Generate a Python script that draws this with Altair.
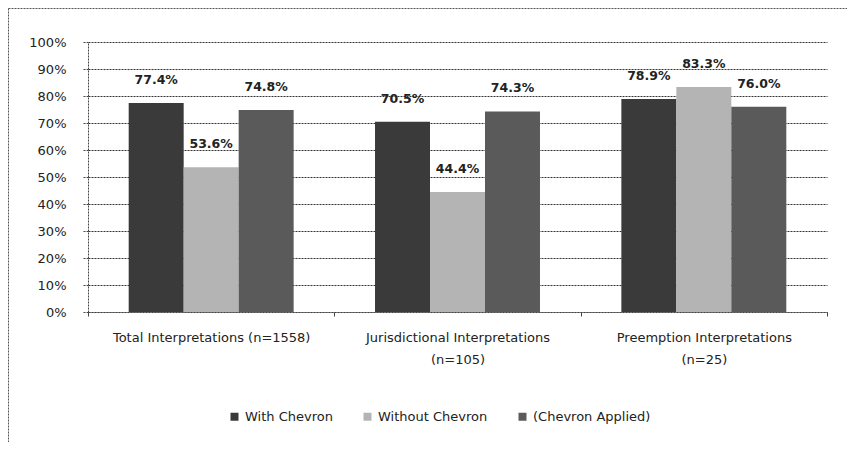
import altair as alt
import pandas as pd

categories = [
    "Total Interpretations (n=1558)",
    "Jurisdictional Interpretations (n=105)",
    "Preemption Interpretations (n=25)",
]
series = ["With Chevron", "Without Chevron", "(Chevron Applied)"]
with_chevron = [77.4, 70.5, 78.9]
without_chevron = [53.6, 44.4, 83.3]
chevron_applied = [74.8, 74.3, 76.0]
colors = ["#3a3a3a", "#b4b4b4", "#5a5a5a"]
y_ticks = [0, 0.1, 0.2, 0.3, 0.4, 0.5, 0.6, 0.7, 0.8, 0.9, 1.0]

rows = []
for i, c in enumerate(categories):
    for s, vals in zip(series, [with_chevron, without_chevron, chevron_applied]):
        rows.append({"category": c, "series": s, "value": vals[i] / 100})
df = pd.DataFrame(rows)

FONT = "DejaVu Sans"

x_axis = alt.Axis(
    title=None,
    labelAngle=0,
    tickBand="extent",
    ticks=True,
    tickSize=4,
    tickColor="#444",
    labelPadding=15,
    labelFontSize=13,
    labelFont=FONT,
    labelColor="#222",
    labelLineHeight=22,
    labelLimit=300,
    domain=True,
    domainColor="#444",
    domainDash=[2, 1],
    grid=False,
    labelExpr="indexof(datum.label,'Total')==0 ? datum.label : [slice(datum.label,0,indexof(datum.label,' (')), slice(datum.label,indexof(datum.label,' (')+1)]",
)
y_axis = alt.Axis(
    title=None,
    format=".0%",
    values=y_ticks,
    tickCount=12,
    labelOverlap=False,
    grid=True,
    gridColor="#333",
    gridDash=[2, 1],
    gridWidth=1,
    ticks=True,
    tickSize=5,
    tickColor="#444",
    tickDash=[2, 1],
    labelPadding=17,
    labelFontSize=13,
    labelFont=FONT,
    labelColor="#222",
    domain=True,
    domainColor="#444",
    domainDash=[2, 1],
)

x_enc = alt.X("category:N", sort=categories,
              scale=alt.Scale(paddingInner=0, paddingOuter=0), axis=x_axis)
xoff_enc = alt.XOffset("series:N", sort=series,
                       scale=alt.Scale(paddingInner=0, paddingOuter=0.74))
y_enc = alt.Y("value:Q", scale=alt.Scale(domain=[0, 1]), axis=y_axis)

bars = alt.Chart(df).mark_bar().encode(
    x=x_enc,
    xOffset=xoff_enc,
    y=y_enc,
    color=alt.Color(
        "series:N",
        sort=series,
        scale=alt.Scale(domain=series, range=colors),
        legend=alt.Legend(
            title=None,
            orient="none",
            legendX=140,
            legendY=368,
            direction="horizontal",
            symbolType="square",
            symbolSize=64,
            symbolStrokeWidth=0,
            labelFontSize=13,
            labelFont=FONT,
            labelColor="#222",
            labelOffset=4,
            columnPadding=28,
        ),
    ),
)

labels = alt.Chart(df).mark_text(
    dy=-23, baseline="middle", fontWeight="bold", fontSize=12.5, font=FONT, color="#222"
).encode(
    x=x_enc,
    xOffset=xoff_enc,
    y=y_enc,
    text=alt.Text("value:Q", format=".1%"),
)

border_top = alt.Chart(pd.DataFrame({"a": [0]})).mark_rule(
    color="#555", strokeDash=[2, 1], strokeWidth=1
).encode(x=alt.value(-79.5), x2=alt.value(800), y=alt.value(-33.5))
border_left = alt.Chart(pd.DataFrame({"a": [0]})).mark_rule(
    color="#555", strokeDash=[2, 1], strokeWidth=1
).encode(x=alt.value(-79.5), y=alt.value(-33.5), y2=alt.value(420))

chart = (
    alt.layer(bars, labels, border_top, border_left)
    .properties(
        width=739,
        height=270,
        autosize=alt.AutoSizeParams(type="none"),
        padding={"left": 80, "top": 34, "right": 20, "bottom": 130},
        background="white",
    )
    .configure_view(stroke=None)
)

chart.save("out.html", embed_options={"renderer": "svg", "actions": False})
